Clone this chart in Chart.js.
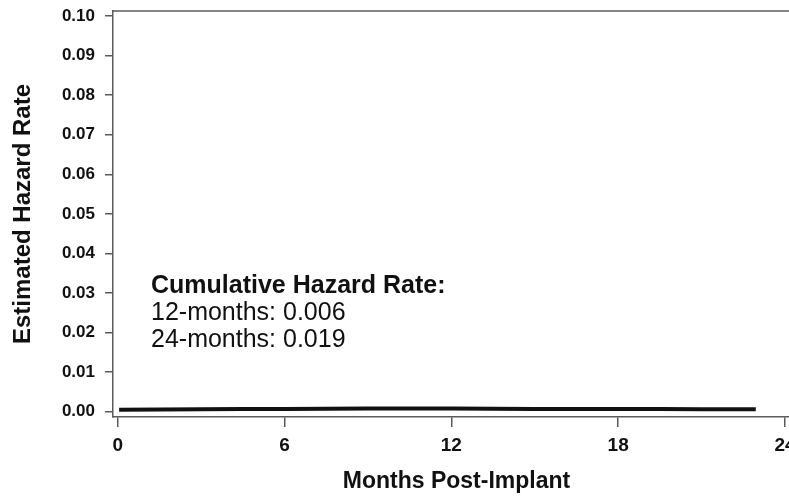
<!DOCTYPE html>
<html lang="en">
<head>
    <meta charset="UTF-8">
    <title>Estimated Hazard Rate</title>
    <script src="https://cdn.jsdelivr.net/npm/chart.js@4.4.0/dist/chart.umd.min.js"></script>
    <style>
        html, body {
            margin: 0;
            padding: 0;
            background: #fff;
            overflow: hidden;
        }
        .chart-container {
            width: 840px;
            height: 497px;
        }
    </style>
</head>
<body>
    <div class="chart-container">
        <canvas id="hazardChart" width="840" height="497"></canvas>
    </div>

    <script>
        // Data
        const months = [0.05, 3, 6, 9, 12, 15, 18, 21, 22.95];
        const hazardRate = [0.0005, 0.0006, 0.0007, 0.0008, 0.0008, 0.0007, 0.0007, 0.0006, 0.0006];
        const xTicks = [0, 6, 12, 18, 24];
        const yTicks = [0, 0.01, 0.02, 0.03, 0.04, 0.05, 0.06, 0.07, 0.08, 0.09, 0.10];

        const noteTitle = 'Cumulative Hazard Rate:';
        const noteLines = ['12-months: 0.006', '24-months: 0.019'];

        const FONT = '"Liberation Sans", Arial, sans-serif';
        const AXIS_COLOR = '#5a5a5a';

        // top frame line + the text block inside the plot
        const extrasPlugin = {
            id: 'extras',
            afterDraw(chart) {
                const ctx = chart.ctx;
                const area = chart.chartArea;
                ctx.save();
                ctx.strokeStyle = AXIS_COLOR;
                ctx.lineWidth = 1.5;
                ctx.beginPath();
                ctx.moveTo(area.left, area.top);
                ctx.lineTo(chart.width, area.top);
                ctx.stroke();

                ctx.fillStyle = '#111';
                ctx.textAlign = 'left';
                ctx.textBaseline = 'alphabetic';
                ctx.font = 'bold 25px ' + FONT;
                ctx.fillText(noteTitle, 151, 293);
                ctx.font = '25px ' + FONT;
                noteLines.forEach((line, i) => {
                    ctx.fillText(line, 151, 320 + i * 27);
                });
                ctx.restore();
            }
        };

        function createChart() {
            const ctx = document.getElementById('hazardChart').getContext('2d');
            new Chart(ctx, {
                type: 'line',
                data: {
                    datasets: [{
                        data: months.map((m, i) => ({ x: m, y: hazardRate[i] })),
                        borderColor: '#111',
                        borderWidth: 4,
                        pointRadius: 0,
                        tension: 0.4,
                        fill: false
                    }]
                },
                options: {
                    responsive: false,
                    animation: false,
                    layout: {
                        padding: { top: 11, right: 40, left: 0, bottom: 0 }
                    },
                    plugins: {
                        legend: { display: false },
                        tooltip: { enabled: false }
                    },
                    scales: {
                        x: {
                            type: 'linear',
                            min: -0.17,
                            max: 24.54,
                            afterFit: (s) => {
                                s.height = 80;
                                s.paddingLeft = 0;
                                s.paddingRight = 0;
                            },
                            afterBuildTicks: (axis) => {
                                axis.ticks = xTicks.map(v => ({ value: v }));
                            },
                            border: { display: true, color: AXIS_COLOR, width: 1.5 },
                            grid: {
                                drawOnChartArea: false,
                                drawTicks: true,
                                tickLength: 10,
                                color: AXIS_COLOR,
                                lineWidth: 1.5
                            },
                            ticks: {
                                padding: 7,
                                color: '#111',
                                font: { family: FONT, size: 19, weight: 'bold' },
                                maxRotation: 0
                            },
                            title: {
                                display: true,
                                text: 'Months Post-Implant',
                                color: '#111',
                                font: { family: FONT, size: 23, weight: 'bold' },
                                padding: { top: 0, bottom: 2 }
                            }
                        },
                        y: {
                            min: -0.00134,
                            max: 0.10126,
                            afterFit: (s) => {
                                s.width = 113;
                                s.paddingTop = 0;
                                s.paddingBottom = 0;
                            },
                            afterBuildTicks: (axis) => {
                                axis.ticks = yTicks.map(v => ({ value: v }));
                            },
                            border: { display: true, color: AXIS_COLOR, width: 1.5 },
                            grid: {
                                drawOnChartArea: false,
                                drawTicks: true,
                                tickLength: 8,
                                color: AXIS_COLOR,
                                lineWidth: 1.5
                            },
                            ticks: {
                                padding: 10,
                                color: '#111',
                                font: { family: FONT, size: 17, weight: 'bold' },
                                callback: (v) => Number(v).toFixed(2)
                            },
                            title: {
                                display: true,
                                text: 'Estimated Hazard Rate',
                                color: '#111',
                                font: { family: FONT, size: 24, weight: 'bold' },
                                padding: { top: 9, bottom: 0 }
                            }
                        }
                    }
                },
                plugins: [extrasPlugin]
            });
        }

        window.onload = function() {
            createChart();
        };
    </script>
</body>
</html>
